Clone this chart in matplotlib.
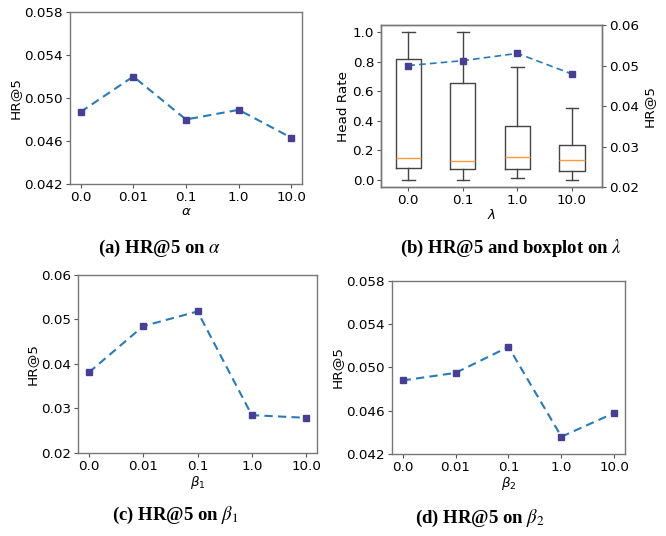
import matplotlib
matplotlib.use("Agg")
from matplotlib import pyplot as plt
import numpy as np

# x tick labels
params5 = ["0.0", "0.01", "0.1", "1.0", "10.0"]
lambdas = ["0.0", "0.1", "1.0", "10.0"]

# HR@5 values
hr_alpha = [0.0487, 0.0520, 0.0480, 0.0489, 0.0463]
hr_lambda = [0.0500, 0.0512, 0.0530, 0.0479]
hr_beta1 = [0.0381, 0.0485, 0.0518, 0.0285, 0.0279]
hr_beta2 = [0.0488, 0.0495, 0.0519, 0.0436, 0.0458]

# head rate boxplot stats per lambda
head_q1 = [0.082, 0.070, 0.075, 0.059]
head_med = [0.147, 0.129, 0.152, 0.134]
head_q3 = [0.816, 0.653, 0.365, 0.236]
head_lo = [0.0, 0.0, 0.011, 0.0]
head_hi = [1.0, 1.0, 0.766, 0.488]

plt.rcParams['font.family'] = ['DejaVu Sans']
plt.rcParams['font.size'] = 9.7
plt.rcParams['axes.edgecolor'] = '#777777'
plt.rcParams['axes.linewidth'] = 1.0

line_c = '#2a7ab8'
mark_c = '#463f92'

fig = plt.figure(figsize=(6.66, 5.36), dpi=100)

def hr_panel(rect, vals, xlabel, ylim, yticks, fmt):
    ax = fig.add_axes(rect)
    x = np.arange(len(vals))
    ax.plot(x, vals, linestyle='--', color=line_c, lw=1.5, dashes=(4, 2.5),
            marker='s', ms=4.5, mfc=mark_c, mec=mark_c)
    ax.set_xticks(x)
    ax.set_xticklabels(params5)
    ax.set_ylim(*ylim)
    ax.set_yticks(yticks)
    ax.set_yticklabels([fmt % v for v in yticks])
    ax.set_xlabel(xlabel, labelpad=1)
    ax.set_ylabel("HR@5", labelpad=2)
    ax.tick_params(length=3, color='#555555', pad=2)
    return ax

hr_panel([0.1051, 0.6567, 0.3483, 0.3209], hr_alpha, r"$\alpha$",
         (0.042, 0.058), [0.042, 0.046, 0.050, 0.054, 0.058], "%.3f")
hr_panel([0.1171, 0.1549, 0.3589, 0.3321], hr_beta1, r"$\beta_1$",
         (0.02, 0.06), [0.02, 0.03, 0.04, 0.05, 0.06], "%.2f")
hr_panel([0.5886, 0.1530, 0.3498, 0.3228], hr_beta2, r"$\beta_2$",
         (0.042, 0.058), [0.042, 0.046, 0.050, 0.054, 0.058], "%.3f")

# (b) boxplot + twin HR line
axb = fig.add_axes([0.5721, 0.6511, 0.3318, 0.3022])
stats = []
for i in range(len(lambdas)):
    stats.append(dict(med=head_med[i], q1=head_q1[i], q3=head_q3[i],
                      whislo=head_lo[i], whishi=head_hi[i], fliers=[]))
pos = np.arange(len(lambdas))
axb.bxp(stats, positions=pos, widths=0.46, showfliers=False,
        boxprops=dict(color='#444444', lw=1.0),
        whiskerprops=dict(color='#444444', lw=1.0),
        capprops=dict(color='#444444', lw=1.0),
        medianprops=dict(color='#ff9a3c', lw=1.0))
axb.set_xticks(pos)
axb.set_xticklabels(lambdas)
axb.set_xlim(-0.5, 3.55)
axb.set_ylim(-0.05, 1.05)
axb.set_yticks([0.0, 0.2, 0.4, 0.6, 0.8, 1.0])
axb.set_xlabel(r"$\lambda$", labelpad=1)
axb.set_ylabel("Head Rate", labelpad=2)
axb.tick_params(length=3, color='#555555', pad=2)
ax2 = axb.twinx()
ax2.plot(pos, hr_lambda, linestyle='--', color=line_c, lw=1.2, dashes=(4, 2.5),
         marker='s', ms=4.5, mfc=mark_c, mec=mark_c)
ax2.set_ylim(0.02, 0.06)
ax2.set_yticks([0.02, 0.03, 0.04, 0.05, 0.06])
ax2.set_yticklabels(["%.2f" % v for v in [0.02, 0.03, 0.04, 0.05, 0.06]])
ax2.set_ylabel("HR@5", labelpad=3)
ax2.tick_params(length=3, color='#555555', pad=2)

# captions
cap = dict(ha='center', va='center', fontsize=13.5, fontweight='bold',
           family='Liberation Serif', math_fontfamily='stix')
fig.text(159 / 666, 1 - 248 / 536, r"(a) HR@5 on $\alpha$", **cap)
fig.text(511 / 666, 1 - 248 / 536, r"(b) HR@5 and boxplot on $\lambda$", **cap)
fig.text(175 / 666, 1 - 515 / 536, r"(c) HR@5 on $\beta_1$", **cap)
fig.text(480 / 666, 1 - 518 / 536, r"(d) HR@5 on $\beta_2$", **cap)

fig.savefig("out.png", dpi=100)
